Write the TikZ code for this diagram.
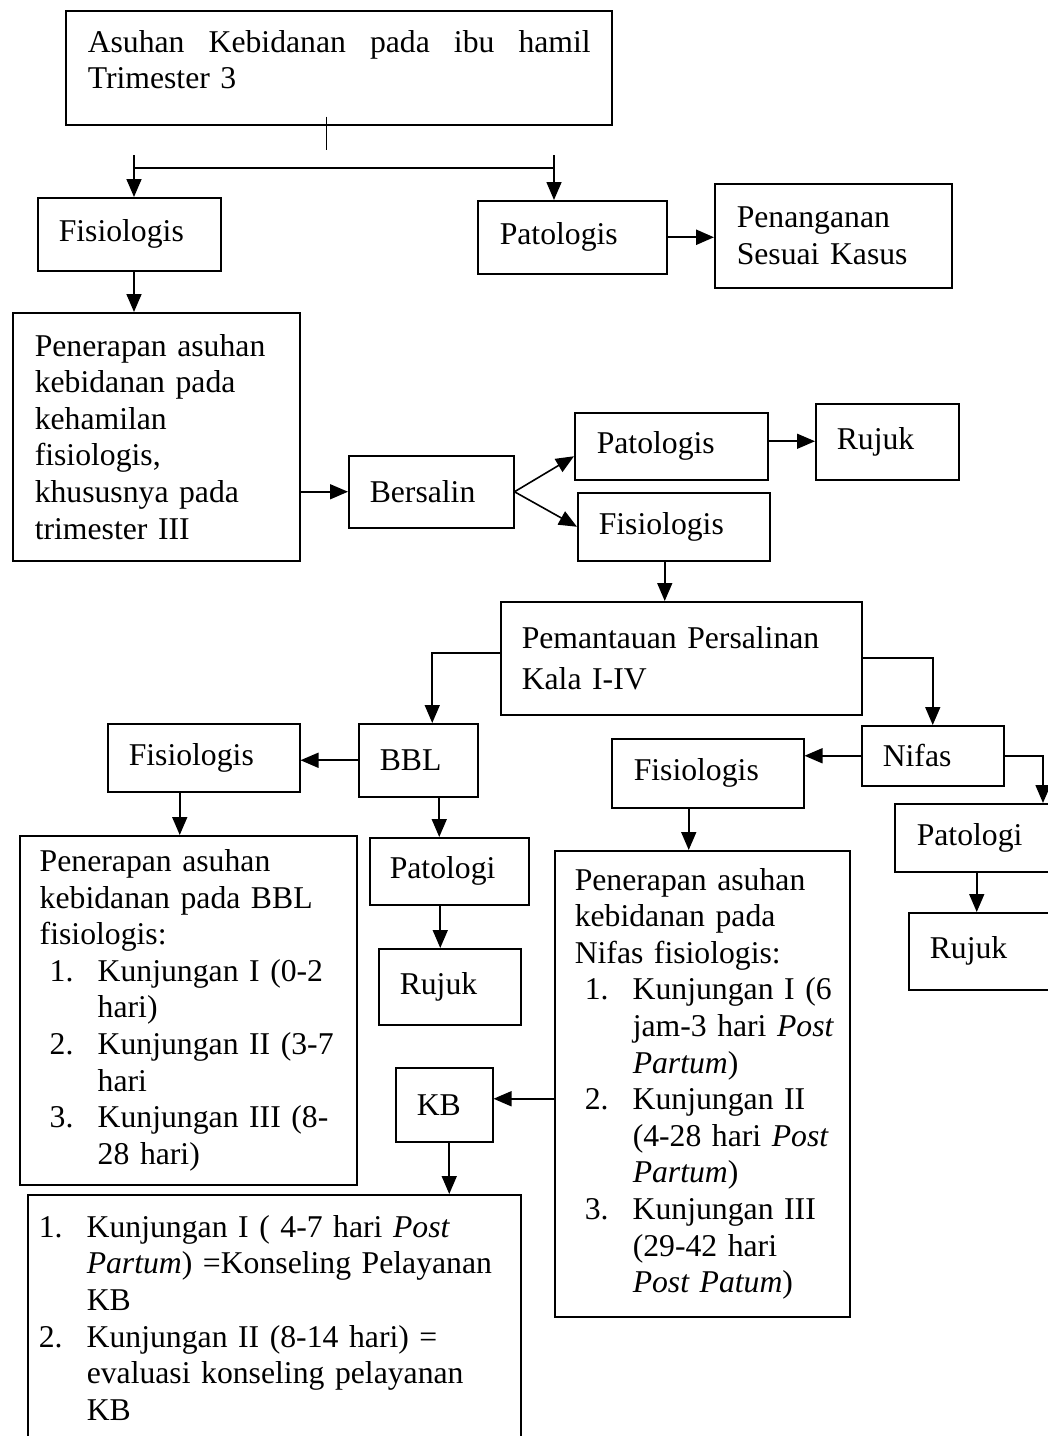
\documentclass[tikz,border=0pt]{standalone}
\usepackage{fontspec}
\setmainfont{Liberation Serif}
\usetikzlibrary{arrows.meta}
\newcommand\nlbl[1]{\hspace*{10pt}\makebox[48pt][l]{#1}}
\newcommand\nind{\hspace*{58pt}}
\begin{document}
\begin{tikzpicture}[
   x=1pt, y=-1pt, font=\fontsize{31.7}{36.6}\selectfont,
   box/.style={draw, line width=1.5pt, anchor=north west, inner sep=0pt,
      align=left, execute at begin node={\leftskip=#1}},
   box/.default=21pt,
   arr/.style={line width=1.6pt, -{Triangle[length=18pt,width=15pt]}}
]
   \useasboundingbox (0,0) rectangle (1048,1436);
   \node (asuhan) [box=22pt, text width=546pt, minimum height=114pt] at (65,10)
      {\makebox[503pt][l]{Asuhan\hfill Kebidanan\hfill pada\hfill ibu\hfill hamil}\\Trimester 3\\[-20pt]\mbox{}};
   \node (fis1) [box, text width=183pt, minimum height=73pt] at (37,197) {Fisiologis};
   \node (pat1) [box=22pt, text width=189pt, minimum height=73pt] at (477,200) {Patologis};
   \node (tangani) [box=22pt, text width=237pt, minimum height=104pt] at (714,183)
      {Penanganan\\Sesuai Kasus};
   \node (pen1) [box=22pt, text width=287pt, minimum height=248pt] at (12,312)
      {Penerapan asuhan\\kebidanan pada\\kehamilan\\fisiologis,\\khususnya pada\\trimester III};
   \node (salin) [box, text width=165pt, minimum height=72pt] at (348,455) {Bersalin};
   \node (pat2) [box=22pt, text width=193pt, minimum height=67pt] at (574,412) {Patologis};
   \node (rujuk1) [box, text width=143pt, minimum height=76pt] at (815,403) {Rujuk};
   \node (fis2) [box, text width=192pt, minimum height=68pt] at (577,492) {Fisiologis};
   \node (pantau) [box, text width=361pt, minimum height=113pt] at (500,601)
      {Pemantauan Persalinan\\[4pt]Kala I-IV};
   \node (bbl) [box, text width=119pt, minimum height=73pt] at (358,723) {BBL};
   \node (fis4) [box, text width=192pt, minimum height=68pt] at (107,723) {Fisiologis};
   \node (nifas) [box, text width=142pt, minimum height=60pt] at (861,725) {Nifas};
   \node (fis3) [box=22pt, text width=192pt, minimum height=69pt] at (611,738) {Fisiologis};
   \node (pat3) [box=22pt, text width=170pt, minimum height=68pt] at (894,803) {Patologi};
   \node (rujuk3) [box, text width=160pt, minimum height=77pt] at (908,912) {Rujuk};
   \node (pen2) [box=20pt, text width=337pt, minimum height=349pt] at (19,835)
      {Penerapan asuhan\\kebidanan pada BBL\\fisiologis:\\
       \nlbl{1.}Kunjungan I (0-2\\\nind hari)\\
       \nlbl{2.}Kunjungan II (3-7\\\nind hari\\
       \nlbl{3.}Kunjungan III (8-\\\nind 28 hari)};
   \node (pat4) [box=20pt, text width=159pt, minimum height=67pt] at (369,837) {Patologi};
   \node (rujuk2) [box, text width=142pt, minimum height=76pt] at (378,948) {Rujuk};
   \node (pen3) [box=20pt, text width=295pt, minimum height=466pt] at (554,850)
      {Penerapan asuhan\\kebidanan pada\\Nifas fisiologis:\\
       \nlbl{1.}Kunjungan I (6\\\nind jam-3 hari \textit{Post}\\\nind\textit{Partum})\\
       \nlbl{2.}Kunjungan II\\\nind (4-28 hari \textit{Post}\\\nind\textit{Partum})\\
       \nlbl{3.}Kunjungan III\\\nind (29-42 hari\\\nind\textit{Post Patum})};
   \node (kb) [box, text width=97pt, minimum height=74pt] at (395,1067) {KB};
   \node (kbket) [box=1pt, text width=493pt, minimum height=246pt] at (27,1194)
      {\nlbl{1.}Kunjungan I ( 4-7 hari \textit{Post}\\\nind\textit{Partum}) =Konseling Pelayanan\\\nind KB\\
       \nlbl{2.}Kunjungan II (8-14 hari) =\\\nind evaluasi konseling pelayanan\\\nind KB};

   \coordinate (stem) at (326,150);
   \coordinate (tl) at (134,155);
   \coordinate (tr) at (554,155);
   \coordinate (bl) at (134,168);
   \coordinate (br) at (554,168);
   \coordinate (nifasR) at (1043,757);
   \draw [line width=1pt] ([yshift=9pt]stem |- asuhan.south) -- (stem);
   \draw [line width=1.6pt] (bl) -- (br);
   \draw [arr] (tl) -- (tl |- fis1.north);
   \draw [arr] (tr) -- (tr |- pat1.north);
   \draw [arr, line width=2.4pt] (pat1.east) -- (pat1.east -| tangani.west);
   \draw [arr] (fis1.south -| tl) -- (pen1.north -| tl);
   \draw [arr] (pen1.east |- salin) -- (salin.west);
   \draw [arr] (salin.east) -- ([yshift=-10pt]pat2.west);
   \draw [arr] (salin.east) -- (fis2.west);
   \draw [arr] ([yshift=5pt]pat2.east) -- ([yshift=5pt]pat2.east -| rujuk1.west);
   \draw [arr] ([xshift=-9pt]fis2.south) -- ([xshift=-9pt]fis2.south |- pantau.north);
   \draw [arr] ([yshift=5pt]pantau.west) -| ([xshift=14pt]bbl.north);
   \draw [arr] (pantau.east) -| (nifas.north);
   \draw [arr] (bbl.west) -- (bbl.west -| fis4.east);
   \draw [arr] (nifas.west) -- (nifas.west -| fis3.east);
   \draw [arr] (nifas.east) -| (nifasR |- pat3.north);
   \draw [arr] ([xshift=-3pt]pat3.south) -- ([xshift=-3pt]pat3.south |- rujuk3.north);
   \draw [arr] ([xshift=-19pt]fis3.south) -- ([xshift=-19pt]fis3.south |- pen3.north);
   \draw [arr] ([xshift=-24pt]fis4.south) -- ([xshift=-24pt]fis4.south |- pen2.north);
   \draw [arr] ([xshift=21pt]bbl.south) -- ([xshift=21pt]bbl.south |- pat4.north);
   \draw [arr] ([xshift=-9pt]pat4.south) -- ([xshift=-9pt]pat4.south |- rujuk2.north);
   \draw [arr] ([yshift=6pt]pen3.west |- kb) -- ([yshift=6pt]kb.east);
   \draw [arr] ([xshift=5pt]kb.south) -- ([xshift=5pt]kb.south |- kbket.north);
\end{tikzpicture}
\end{document}
